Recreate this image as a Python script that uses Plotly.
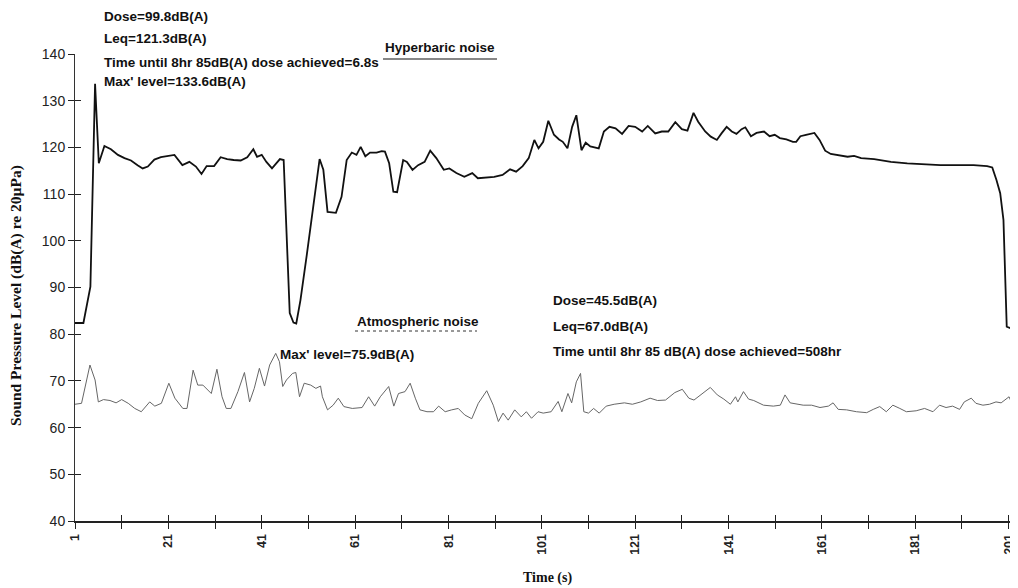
import plotly.graph_objects as go

# ---------------- data ----------------
hyp_t = [1, 2.8, 4.3, 5.3, 6.1, 7.3, 8.7, 10.2, 11.6, 13.0, 14.4, 15.5, 16.6, 18.0, 19.4, 20.8, 22.3,
         24.0, 25.5, 26.9, 28.1, 29.2, 30.8, 32.2, 33.6, 35.0, 36.5, 37.9, 39.2, 40.0, 41.0, 42.0, 43.2,
         44.9, 45.7, 47.0, 47.8, 48.4, 49.3, 50.7, 52.1, 53.4, 54.2, 55.1, 56.9, 58.1, 59.2, 60.3, 61.3,
         62.2, 63.2, 64.2, 65.6, 66.7, 67.4, 68.3, 69.2, 70.0, 71.3, 72.1, 73.3, 74.5, 75.9, 77.1, 78.4,
         80.0, 81.2, 82.7, 84.4, 86.1, 87.3, 89.4, 90.8, 92.6, 94.2, 95.5, 96.9, 98.2, 99.4, 100.3, 101.3,
         102.4, 103.6, 104.7, 105.5, 106.5, 107.5, 108.4, 109.5, 110.4, 111.4, 113.2, 114.3, 115.5, 116.8,
         118.2, 119.6, 121.0, 122.5, 123.7, 125.3, 126.7, 128.1, 129.6, 131.0, 132.2, 133.5, 134.5, 136.0,
         137.2, 138.5, 139.5, 140.6, 141.7, 142.7, 143.8, 144.6, 145.8, 147.0, 148.6, 149.8, 150.9, 152.0,
         153.4, 154.8, 155.5, 156.4, 157.6, 158.7, 159.4, 160.5, 161.7, 162.9, 165.1, 166.5, 167.9, 169.4,
         172.2, 175.8, 179.3, 182.9, 186.4, 190.0, 193.5, 196.4, 197.5, 198.4, 199.2, 199.9, 200.3, 200.6,
         201.7]
hyp_db = [82.4, 82.4, 90.2, 133.6, 116.6, 120.3, 119.6, 118.4, 117.7, 117.2, 116.2, 115.5, 115.9, 117.4,
          117.9, 118.2, 118.4, 116.2, 116.9, 115.9, 114.3, 116.0, 116.0, 117.9, 117.5, 117.3, 117.2, 117.9,
          119.6, 118.0, 118.4, 116.9, 115.5, 117.5, 117.3, 84.5, 82.5, 82.3, 87.3, 97.3, 108.0, 117.5, 115.2,
          106.2, 106.0, 109.4, 117.3, 118.9, 118.4, 120.1, 118.1, 118.9, 118.9, 119.2, 119.1, 116.6, 110.5,
          110.4, 117.3, 116.9, 115.2, 116.2, 116.9, 119.3, 117.7, 115.2, 115.5, 114.5, 113.7, 114.5, 113.4,
          113.6, 113.7, 114.1, 115.3, 114.8, 116.0, 117.7, 121.6, 119.8, 121.2, 125.7, 122.7, 121.7, 121.2,
          119.8, 124.4, 126.9, 119.4, 121.0, 120.2, 119.8, 123.4, 124.4, 124.1, 122.9, 124.6, 124.4, 123.4,
          124.6, 123.0, 123.4, 123.4, 125.4, 123.9, 123.6, 127.4, 125.5, 123.4, 122.3, 121.6, 123.0, 124.4,
          123.4, 122.9, 123.9, 124.3, 122.4, 123.1, 123.4, 122.4, 122.7, 122.0, 121.7, 121.2, 121.2, 122.4,
          122.7, 123.0, 123.1, 121.6, 119.3, 118.6, 118.2, 118.0, 118.2, 117.7, 117.5, 116.9, 116.6, 116.4,
          116.2, 116.2, 116.2, 116.0, 115.7, 113.0, 110.2, 104.5, 91.6, 81.6, 81.2]

atm_t = [1.0, 2.4, 4.2, 5.3, 6.0, 7.1, 8.5, 9.8, 11.0, 12.4, 13.8, 15.2, 17.0, 18.1, 19.5, 21.1, 22.4,
         24.1, 25.0, 26.3, 27.3, 28.4, 30.2, 31.4, 32.5, 33.4, 34.4, 35.9, 37.3, 38.4, 39.4, 40.5, 41.6,
         42.7, 44.0, 44.8, 45.5, 46.3, 47.6, 48.3, 49.1, 50.1, 51.5, 52.6, 53.6, 54.0, 55.1, 56.3, 57.4,
         58.6, 60.4, 62.5, 63.9, 65.2, 66.4, 68.2, 69.3, 70.3, 71.7, 72.8, 73.9, 74.9, 76.4, 77.8, 78.9,
         80.3, 81.7, 83.1, 84.5, 86.0, 87.4, 89.2, 90.6, 91.7, 92.7, 93.8, 95.2, 96.6, 97.7, 98.8, 100.2,
         101.3, 103.0, 104.5, 105.3, 106.6, 107.4, 108.4, 109.3, 110.0, 111.0, 112.1, 113.3, 114.8, 116.5,
         118.7, 120.4, 122.2, 124.2, 125.8, 127.5, 129.5, 131.1, 132.5, 133.6, 135.0, 137.1, 138.6, 140.0,
         141.4, 142.5, 143.0, 144.2, 145.3, 146.4, 148.5, 150.6, 152.1, 153.1, 154.2, 155.6, 157.0, 158.8,
         160.6, 162.4, 163.4, 164.5, 166.3, 168.4, 170.6, 172.0, 173.4, 174.8, 176.2, 177.7, 179.1, 181.2,
         183.0, 184.8, 186.2, 187.6, 189.0, 190.5, 191.5, 193.0, 194.0, 195.5, 196.9, 198.3, 199.4, 201.1,
         201.8]
atm_db = [65.0, 65.2, 73.4, 70.2, 65.5, 66.0, 65.8, 65.3, 66.0, 65.2, 64.1, 63.4, 65.5, 64.6, 65.2, 69.5,
          66.3, 64.1, 64.1, 72.3, 69.1, 69.1, 67.3, 72.5, 66.6, 64.1, 64.1, 67.7, 71.8, 65.5, 68.4, 72.7,
          68.9, 73.4, 75.9, 74.1, 68.8, 70.2, 71.6, 71.8, 66.6, 69.5, 69.1, 68.4, 68.9, 66.6, 63.8, 64.8,
          66.3, 64.5, 64.1, 64.3, 66.6, 64.6, 66.6, 68.8, 64.6, 67.3, 67.7, 69.5, 66.3, 63.8, 63.4, 63.4,
          64.6, 63.4, 63.8, 64.1, 62.7, 61.9, 65.2, 67.9, 64.8, 61.3, 63.1, 61.6, 63.8, 62.3, 63.4, 62.0,
          63.4, 63.1, 63.4, 65.6, 63.4, 67.3, 65.3, 69.8, 71.6, 63.4, 63.1, 64.1, 63.1, 64.6, 65.0, 65.3,
          65.0, 65.5, 66.3, 65.8, 65.9, 67.5, 68.2, 66.3, 65.9, 67.0, 68.6, 67.0, 66.1, 65.0, 66.6, 65.5,
          67.7, 66.1, 65.8, 64.8, 64.6, 64.8, 67.0, 65.3, 65.0, 64.8, 64.8, 64.3, 64.6, 65.3, 63.9, 63.8,
          63.4, 63.2, 63.9, 64.5, 63.4, 64.8, 64.1, 63.4, 63.6, 64.1, 63.4, 64.8, 64.3, 64.6, 63.9, 65.5,
          66.3, 65.2, 64.8, 65.0, 65.5, 65.3, 66.6, 65.0]

x_tick_vals = list(range(1, 202, 10))
x_tick_text = ["<b>%d</b>" % v if (v - 1) % 20 == 0 else "" for v in x_tick_vals]
y_tick_vals = list(range(40, 141, 10))

hyp_notes = ["Dose=99.8dB(A)", "Leq=121.3dB(A)",
             "Time until 8hr 85dB(A) dose achieved=6.8s", "Max' level=133.6dB(A)"]
atm_notes = ["Dose=45.5dB(A)", "Leq=67.0dB(A)",
             "Time until 8hr 85 dB(A) dose achieved=508hr"]

# ---------------- figure ----------------
fig = go.Figure()
fig.add_trace(go.Scatter(x=atm_t, y=atm_db, mode="lines", name="Atmospheric noise",
                         line=dict(color="#666666", width=1), showlegend=False))
fig.add_trace(go.Scatter(x=hyp_t, y=hyp_db, mode="lines", name="Hyperbaric noise",
                         line=dict(color="#111111", width=1.8), showlegend=False))
# empty trace to carry the inside-tick overlay axes
fig.add_trace(go.Scatter(x=[], y=[], xaxis="x2", yaxis="y2", showlegend=False, hoverinfo="skip"))

FONT = "Liberation Sans"
SERIF = "Liberation Serif"
# plot-area geometry in page pixels (the page body adds an 8px offset to the figure)
PLOT_LEFT, PLOT_W = 75, 942
PLOT_TOP, PLOT_H = 54, 467
X_RANGE = [1, 202.8]


def py(pix):
    return (PLOT_TOP + PLOT_H - pix) / PLOT_H


def px(pix):
    return (pix - PLOT_LEFT) / PLOT_W


NOTE = dict(family=FONT, size=13.5, color="#111")
ann = []
for txt, ypix in zip(hyp_notes, [16, 39, 62, 81]):
    ann.append(dict(x=px(102), y=py(ypix), xref="paper", yref="paper", text="<b>%s</b>" % txt,
                    showarrow=False, xanchor="left", yanchor="middle", font=NOTE))
for txt, ypix in zip(atm_notes, [300, 326, 352]):
    ann.append(dict(x=px(551), y=py(ypix), xref="paper", yref="paper", text="<b>%s</b>" % txt,
                    showarrow=False, xanchor="left", yanchor="middle", font=NOTE))
ann.append(dict(x=px(383), y=py(48), xref="paper", yref="paper", text="<b>Hyperbaric noise</b>",
                showarrow=False, xanchor="left", yanchor="middle", font=NOTE))
ann.append(dict(x=px(355), y=py(321), xref="paper", yref="paper", text="<b>Atmospheric noise</b>",
                showarrow=False, xanchor="left", yanchor="middle", font=NOTE))
ann.append(dict(x=px(278), y=py(354), xref="paper", yref="paper", text="<b>Max' level=75.9dB(A)</b>",
                showarrow=False, xanchor="left", yanchor="middle", font=NOTE))
ann.append(dict(x=px(16), y=py(296), xref="paper", yref="paper",
                text="<b>Sound Pressure Level (dB(A) re 20µPa)</b>",
                textangle=-90, showarrow=False, xanchor="center", yanchor="middle",
                font=dict(family=SERIF, size=15.5, color="#111")))
ann.append(dict(x=px(547), y=py(578), xref="paper", yref="paper", text="<b>Time (s)</b>", showarrow=False,
                xanchor="center", yanchor="middle", font=dict(family=SERIF, size=14, color="#111")))

shapes = [
    dict(type="line", xref="paper", yref="paper", x0=px(383), x1=px(497), y0=py(59), y1=py(59),
         line=dict(color="#111", width=1.2)),
    dict(type="line", xref="paper", yref="paper", x0=px(355), x1=px(477), y0=py(331), y1=py(331),
         line=dict(color="#333", width=1, dash="dot")),
]

axis_common = dict(showgrid=False, zeroline=False, tickcolor="#222", tickwidth=1, ticklen=6,
                   automargin=False)
fig.update_layout(
    width=1010, height=580,
    margin=dict(l=67, r=1, t=46, b=67),
    paper_bgcolor="white", plot_bgcolor="white",
    annotations=ann, shapes=shapes,
    xaxis=dict(range=X_RANGE, tickmode="array", tickvals=x_tick_vals, ticktext=x_tick_text,
               tickangle=-90, ticks="outside", showline=True, linewidth=2, linecolor="#222",
               tickfont=dict(family=FONT, size=12.5, color="#222"), **axis_common),
    yaxis=dict(range=[40, 140], tickmode="array", tickvals=y_tick_vals, ticks="outside",
               showline=True, linewidth=1, linecolor="#333",
               tickfont=dict(family=FONT, size=14, color="#222"), **axis_common),
    xaxis2=dict(range=X_RANGE, overlaying="x", anchor="y", side="bottom", tickmode="array",
                tickvals=x_tick_vals, ticks="inside", showticklabels=False, showline=False, **axis_common),
    yaxis2=dict(range=[40, 140], overlaying="y", anchor="x", side="left", tickmode="array",
                tickvals=y_tick_vals, ticks="inside", showticklabels=False, showline=False, **axis_common),
)

fig.write_html("out.html")
